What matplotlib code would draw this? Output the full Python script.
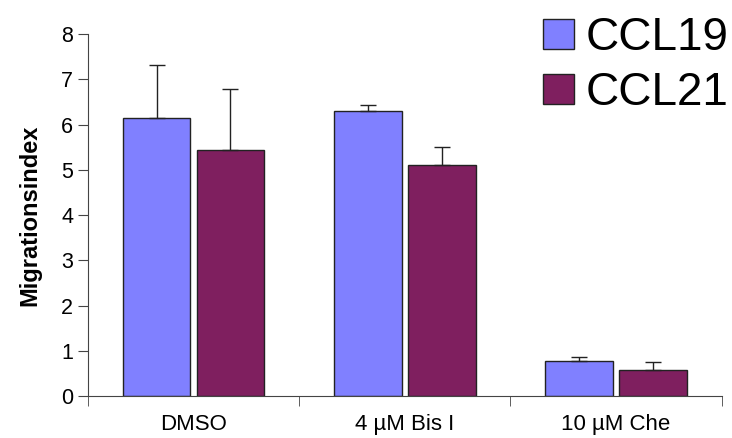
import numpy as np
import matplotlib.pyplot as plt

plt.rcParams['font.family'] = ['Liberation Sans', 'DejaVu Sans']

categories = ['DMSO', '4 µM Bis I', '10 µM Che']
series = ['CCL19', 'CCL21']
ccl19 = [6.15, 6.30, 0.77]
ccl19_err = [1.17, 0.14, 0.10]
ccl21 = [5.43, 5.10, 0.58]
ccl21_err = [1.35, 0.41, 0.17]
colors = ['#8080FF', '#7F1F5F']

fig = plt.figure(figsize=(7.32, 4.38), dpi=100)
ax = fig.add_axes([0.120, 0.096, 0.866, 0.826])

x = np.arange(len(categories))
w = 0.32
gap = 0.03
for i, (vals, errs) in enumerate([(ccl19, ccl19_err), (ccl21, ccl21_err)]):
    pos = x + (i - 0.5) * (w + gap)
    ax.bar(pos, vals, width=w, color=colors[i], edgecolor='#222222',
           linewidth=1.0, label=series[i], zorder=2)
    ax.errorbar(pos, vals, yerr=[np.zeros(len(errs)), errs], fmt='none',
                ecolor='#222222', elinewidth=1.0, capsize=6, capthick=1.0, zorder=3)

ax.set_xlim(-0.5, len(categories) - 0.5)
ax.set_ylim(0, 8)
ax.set_yticks(range(0, 9))
ax.set_xticks(x)
ax.set_xticklabels(categories, fontsize=16)
ax.set_xticks(np.arange(-0.5, len(categories)), minor=True)
ax.tick_params(axis='x', which='major', length=0, pad=13)
ax.tick_params(axis='x', which='minor', length=7, direction='out', color='#444444')
ax.tick_params(axis='y', labelsize=15.5, length=7, direction='out', color='#444444')

for s in ['top', 'right']:
    ax.spines[s].set_visible(False)
for s in ['left', 'bottom']:
    ax.spines[s].set_color('#444444')

ax.set_ylabel('Migrationsindex', fontsize=17, fontweight='bold', labelpad=14)

fig.legend(*ax.get_legend_handles_labels(), loc='upper right',
           bbox_to_anchor=(728 / 732, 1 - 16 / 438), frameon=False,
           fontsize=33, handlelength=0.68, handleheight=0.63, handletextpad=0.25,
           labelspacing=0.25, borderpad=0, borderaxespad=0)

fig.savefig('out.png', dpi=100)
